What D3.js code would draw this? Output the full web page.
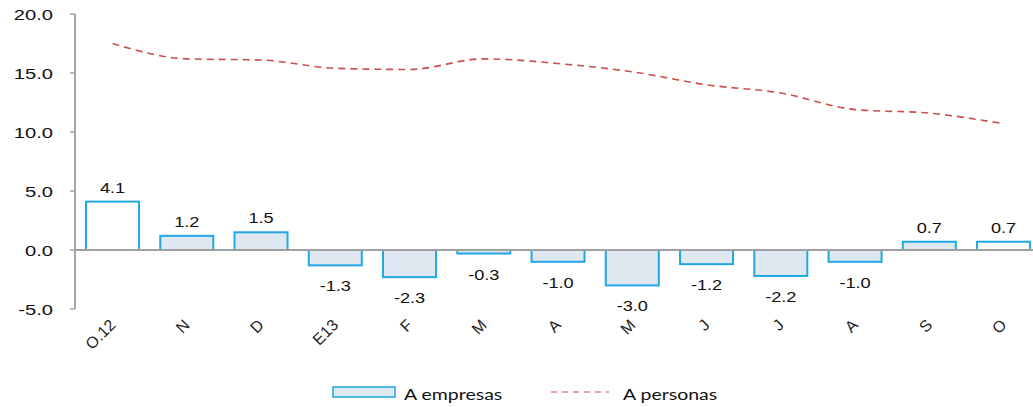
<!DOCTYPE html>
<html>
<head>
<meta charset="utf-8">
<script src="https://cdn.jsdelivr.net/npm/d3@7"></script>
<style>
  body { margin: 0; background: #fff; }
  svg { display: block; }
</style>
</head>
<body>
<script>
var categories = ["O.12", "N", "D", "E13", "F", "M", "A", "M", "J", "J", "A", "S", "O"];
var empresas = [4.1, 1.2, 1.5, -1.3, -2.3, -0.3, -1.0, -3.0, -1.2, -2.2, -1.0, 0.7, 0.7];
var personas = [17.5, 16.2, 16.1, 15.4, 15.3, 16.2, 15.8, 15.1, 14.0, 13.3, 11.9, 11.6, 10.7];
var yTicks = [-5, 0, 5, 10, 15, 20];
var whiteBars = [0, 12];

var W = 1033, H = 407, SX = 1.3;

var svg = d3.select("body").append("svg")
            .attr("width", W)
            .attr("height", H);

var idx = d3.range(categories.length);

var x = d3.scaleBand()
          .domain(idx)
          .range([75.4, 1040.7])
          .paddingInner(0.286)
          .paddingOuter(0.143);

var y = d3.scaleLinear()
          .domain([-5, 20])
          .range([309, 14]);

function fmt(v) { return v.toFixed(1); }

// stretched text helper (the reference is widened horizontally)
function stretchText(g, tx, ty, str, opts) {
    var sx = opts.sx === undefined ? SX : opts.sx;
    var t = g.append("text")
             .attr("transform", "translate(" + tx + "," + ty + ") scale(" + sx + ",1)")
             .attr("text-anchor", opts.anchor || "middle")
             .attr("font-family", opts.font || "Liberation Sans, Arial, sans-serif")
             .attr("font-size", opts.size || 14)
             .attr("fill", "#111")
             .text(str);
    return t;
}

// y axis
var yAxis = svg.append("g");
yAxis.append("line")
     .attr("x1", 75).attr("x2", 75)
     .attr("y1", y(20)).attr("y2", y(-5))
     .attr("stroke", "#a6a6a6").attr("stroke-width", 2);
yTicks.forEach(function (v) {
    yAxis.append("line")
         .attr("x1", 70).attr("x2", 75)
         .attr("y1", y(v)).attr("y2", y(v))
         .attr("stroke", "#a6a6a6").attr("stroke-width", 1.5);
    stretchText(yAxis, 53, y(v) + 5.5, fmt(v), {anchor: "end", size: 15.5});
});

// bars
svg.selectAll("rect.bar")
   .data(idx)
   .enter().append("rect")
   .attr("class", "bar")
   .attr("x", function (i) { return x(i); })
   .attr("width", x.bandwidth())
   .attr("y", function (i) { return y(Math.max(0, empresas[i])); })
   .attr("height", function (i) { return Math.abs(y(empresas[i]) - y(0)); })
   .attr("fill", function (i) { return whiteBars.indexOf(i) >= 0 ? "#ffffff" : "#dfe7f1"; })
   .attr("stroke", "#1fa8e4")
   .attr("stroke-width", 2);

// zero line
svg.append("line")
   .attr("x1", 75).attr("x2", W)
   .attr("y1", y(0)).attr("y2", y(0))
   .attr("stroke", "#a0a0a0").attr("stroke-width", 2);

// bar labels
var labels = svg.append("g");
idx.forEach(function (i) {
    var v = empresas[i];
    var cx = x(i) + x.bandwidth() / 2;
    var ty = v >= 0 ? y(v) - 9 : y(v) + 26;
    stretchText(labels, cx, ty, fmt(v), {size: 14});
});

// line A personas
var line = d3.line()
             .x(function (i) { return x(i) + x.bandwidth() / 2; })
             .y(function (i) { return y(personas[i]); })
             .curve(d3.curveMonotoneX);

svg.append("path")
   .datum(idx)
   .attr("d", line)
   .attr("fill", "none")
   .attr("stroke", "#c9504f")
   .attr("stroke-width", 1.6)
   .attr("stroke-dasharray", "7,5");

// x labels, rotated 45 degrees
svg.selectAll("text.xlab")
   .data(idx)
   .enter().append("text")
   .attr("class", "xlab")
   .attr("transform", function (i) {
       return "translate(" + (x(i) + x.bandwidth() / 2 + 4) + ",326) rotate(-45)";
   })
   .attr("text-anchor", "end")
   .attr("font-family", "Liberation Sans, Arial, sans-serif")
   .attr("font-size", 16)
   .attr("fill", "#222")
   .text(function (i) { return categories[i]; });

// legend
var leg = svg.append("g");
leg.append("rect")
   .attr("x", 333).attr("y", 387)
   .attr("width", 62).attr("height", 10)
   .attr("fill", "#dfe7f1")
   .attr("stroke", "#1fa8e4").attr("stroke-width", 1.5);
stretchText(leg, 404, 400, "A empresas", {anchor: "start", size: 15, font: "Lato, Open Sans, sans-serif"});
leg.append("line")
   .attr("x1", 551).attr("x2", 609)
   .attr("y1", 392).attr("y2", 392)
   .attr("stroke", "#d0474a").attr("stroke-width", 1.2)
   .attr("stroke-dasharray", "6,5");
stretchText(leg, 623, 400, "A personas", {anchor: "start", size: 15, font: "Lato, Open Sans, sans-serif"});
</script>
</body>
</html>
